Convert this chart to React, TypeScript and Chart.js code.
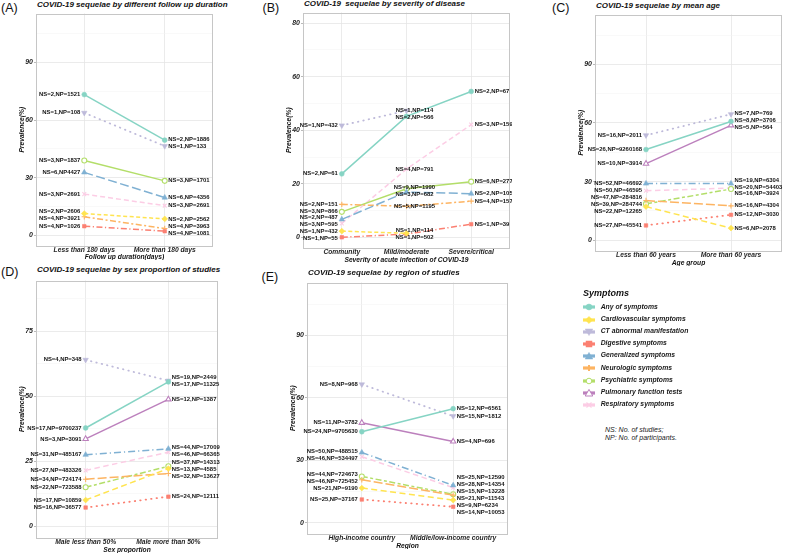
import React, { useEffect, useRef } from 'react';
import { Chart, registerables } from 'chart.js';
Chart.register(...registerables);

const FONT = '"Liberation Sans", Arial, Helvetica, sans-serif';

// ---------- shared symptom list & styles ----------
const SYMPTOMS = [
  'Any of symptoms',
  'Cardiovascular symptoms',
  'CT abnormal manifestation',
  'Digestive symptoms',
  'Generalized symptoms',
  'Neurologic symptoms',
  'Psychiatric symptoms',
  'Pulmonary function tests',
  'Respiratory symptoms',
];
const COLORS = ['#86D4C4', '#FFE450', '#BEBADA', '#FB8072', '#80B1D3', '#FDB462', '#B3DE69', '#BC80BD', '#FCCDE5'];
const POINT_STYLE = ['circle', 'rectRot', 'triangle', 'rect', 'triangle', 'cross', 'circle', 'triangle', 'crossRot'];
const POINT_ROT = [0, 0, 180, 0, 0, 0, 0, 0, 0];
const POINT_OPEN = [false, false, false, false, false, false, true, true, true];
const POINT_R = [2.4, 2.9, 3.1, 2.5, 3.1, 2.7, 2.5, 3.1, 2.7];
const DASH_AB = [[], [4, 2.5], [0.5, 5], [6, 2.5, 1.2, 2.5], [9, 3.5], [6, 2.5, 2, 2.5], [], [], [5, 3]];
const DASH_CDE = [[], [6, 3.5], [0.5, 5], [0.5, 5], [7, 3, 1.2, 3], [9, 3], [6, 2.5, 3, 2.5], [], [5.5, 3.5]];

// ---------- Panel A ----------
const A_CATS = ['Less than 180 days', 'More than 180 days'];
const A_VALUES: (number | null)[][] = [
  [73.3, 49.6], // Any
  [11.4, 8.6], // Cardiovascular
  [63.8, 46.5], // CT
  [4.8, 2.2], // Digestive
  [32.8, 19.7], // Generalized
  [9.7, 3.6], // Neurologic
  [39.0, 28.4], // Psychiatric
  [null, null], // Pulmonary
  [21.5, 15.5], // Respiratory
];
const A_LABELS: (string | null)[][] = [
  ['NS=2,NP=1521', 'NS=2,NP=1886'],
  ['NS=2,NP=2606', 'NS=2,NP=2562'],
  ['NS=1,NP=108', 'NS=1,NP=133'],
  ['NS=4,NP=1026', 'NS=4,NP=1081'],
  ['NS=6,NP4427', 'NS=6,NP=4356'],
  ['NS=4,NP=3921', 'NS=4,NP=3963'],
  ['NS=3,NP=1837', 'NS=3,NP=1701'],
  [null, null],
  ['NS=3,NP=2691', 'NS=3,NP=2691'],
];

// ---------- Panel B ----------
const B_CATS = ['Community', 'Mild/moderate', 'Severe/critical'];
const B_VALUES: (number | null)[][] = [
  [23.7, 45.2, 54.5],
  [2.3, 1.5, null],
  [41.8, 47.3, null],
  [0, 1.2, 4.9],
  [6.7, 16.9, 16.3],
  [12.3, 11.6, 13.5],
  [9.5, 18.1, 20.8],
  [null, null, null],
  [5.2, 25.5, 42.1],
];
const B_LABELS: (string | null)[][] = [
  ['NS=2,NP=61', 'NS=2,NP=566', 'NS=2,NP=67'],
  ['NS=1,NP=432', 'NS=1,NP=114', null],
  ['NS=1,NP=432', 'NS=1,NP=114', null],
  ['NS=1,NP=55', 'NS=1,NP=502', 'NS=1,NP=39'],
  ['NS=2,NP=487', 'NS=3,NP=682', 'NS=2,NP=105'],
  ['NS=2,NP=151', 'NS=5,NP=1195', 'NS=4,NP=157'],
  ['NS=3,NP=866', 'NS=9,NP=1990', 'NS=6,NP=277'],
  [null, null, null],
  ['NS=3,NP=595', 'NS=4,NP=791', 'NS=3,NP=159'],
];

// ---------- Panel C ----------
const C_CATS = ['Less than 60 years', 'More than 60 years'];
const C_VALUES: (number | null)[][] = [
  [46.4, 60.8],
  [17.2, 6.2],
  [53.7, 64.5],
  [7.6, 13.0],
  [29.0, 29.0],
  [20.3, 17.6],
  [18.6, 26.2],
  [39.2, 58.8],
  [25.3, 26.7],
];
const C_LABELS: (string | null)[][] = [
  ['NS=26,NP=9260168', 'NS=8,NP=3706'],
  ['NS=22,NP=12265', 'NS=6,NP=2078'],
  ['NS=16,NP=2011', 'NS=7,NP=769'],
  ['NS=27,NP=45541', 'NS=12,NP=3030'],
  ['NS=52,NP=46692', 'NS=19,NP=6304'],
  ['NS=47,NP=284816', 'NS=16,NP=4304'],
  ['NS=39,NP=284744', 'NS=16,NP=3924'],
  ['NS=10,NP=3914', 'NS=5,NP=564'],
  ['NS=50,NP=46595', 'NS=20,NP=54403'],
];

// ---------- Panel D ----------
const D_CATS = ['Male less than 50%', 'Male more than 50%'];
const D_VALUES: (number | null)[][] = [
  [37.8, 55.5],
  [10.1, 22.2],
  [64.0, 56.0],
  [7.2, 11.4],
  [27.5, 29.8],
  [18.1, 20.3],
  [15.0, 23.1],
  [33.6, 48.8],
  [21.5, 28.5],
];
const D_LABELS: (string | null)[][] = [
  ['NS=17,NP=9700237', 'NS=17,NP=11325'],
  ['NS=17,NP=10859', 'NS=13,NP=4585'],
  ['NS=4,NP=348', 'NS=19,NP=2449'],
  ['NS=16,NP=36577', 'NS=24,NP=12111'],
  ['NS=31,NP=485167', 'NS=44,NP=17009'],
  ['NS=34,NP=724174', 'NS=32,NP=13627'],
  ['NS=22,NP=723588', 'NS=37,NP=14313'],
  ['NS=3,NP=3091', 'NS=12,NP=1387'],
  ['NS=27,NP=483326', 'NS=46,NP=66365'],
];

// ---------- Panel E ----------
const E_CATS = ['High-income country', 'Middle/low-income country'];
const E_VALUES: (number | null)[][] = [
  [43.7, 54.8],
  [16.6, 10.8],
  [66.5, 51.2],
  [11.1, 7.6],
  [33.7, 17.9],
  [20.6, 13.2],
  [22.2, 13.6],
  [48.0, 39.0],
  [31.7, 16.8],
];
const E_LABELS: (string | null)[][] = [
  ['NS=24,NP=9705630', 'NS=12,NP=6561'],
  ['NS=21,NP=9190', 'NS=9,NP=6234'],
  ['NS=8,NP=968', 'NS=15,NP=1812'],
  ['NS=25,NP=37167', 'NS=14,NP=10053'],
  ['NS=50,NP=488515', 'NS=25,NP=12590'],
  ['NS=46,NP=725452', 'NS=21,NP=11543'],
  ['NS=44,NP=724673', 'NS=15,NP=13228'],
  ['NS=11,NP=3782', 'NS=4,NP=696'],
  ['NS=46,NP=534497', 'NS=28,NP=14354'],
];

// ---------- layout ----------
type Spec = {
  letter: string;
  title: string;
  xTitle: string;
  cats: string[];
  values: (number | null)[][];
  labels: (string | null)[][];
  dashes: number[][];
  yMin: number;
  yMax: number;
  major: number;
  minor: number;
  L: number; T: number; R: number; B: number;
  xh: number;
  letterX: number; letterY: number;
  titleY: number;
};

const PANELS: Spec[] = [
  { letter: '(A)', title: 'COVID-19 sequelae by different follow up duration', xTitle: 'Follow up duration(days)',
    cats: A_CATS, values: A_VALUES, labels: A_LABELS, dashes: DASH_AB,
    yMin: -5.5, yMax: 115.5, major: 30, minor: 15, L: 36, T: 11, R: 213, B: 246, xh: 14,
    letterX: 1, letterY: 8.3, titleY: 5 },
  { letter: '(B)', title: 'COVID-19  sequelae by severity of disease', xTitle: 'Severity of acute infection of COVID-19',
    cats: B_CATS, values: B_VALUES, labels: B_LABELS, dashes: DASH_AB,
    yMin: -4, yMax: 84, major: 20, minor: 10, L: 303, T: 10, R: 510, B: 248, xh: 15,
    letterX: 262.5, letterY: 8.3, titleY: 4.3 },
  { letter: '(C)', title: 'COVID-19 sequelae by mean age', xTitle: 'Age group',
    cats: C_CATS, values: C_VALUES, labels: C_LABELS, dashes: DASH_CDE,
    yMin: -5.5, yMax: 115.5, major: 30, minor: 15, L: 595, T: 12, R: 782, B: 251, xh: 15,
    letterX: 552, letterY: 8.7, titleY: 6.3 },
  { letter: '(D)', title: 'COVID-19 sequelae by sex proportion of studies', xTitle: 'Sex proportion',
    cats: D_CATS, values: D_VALUES, labels: D_LABELS, dashes: DASH_CDE,
    yMin: -4.5, yMax: 94.5, major: 25, minor: 12.5, L: 36, T: 278, R: 218, B: 538, xh: 15,
    letterX: 1, letterY: 272, titleY: 270.5 },
  { letter: '(E)', title: 'COVID-19 sequelae by region of studies', xTitle: 'Region',
    cats: E_CATS, values: E_VALUES, labels: E_LABELS, dashes: DASH_CDE,
    yMin: -5.5, yMax: 115.5, major: 30, minor: 15, L: 307, T: 280, R: 508, B: 534, xh: 15,
    letterX: 261.5, letterY: 277.5, titleY: 273.3 },
];

const YW = 17; // y axis box width
const PT = 2;
const PR = 2;

function repel(desired: number[], gap: number, lo: number, hi: number): number[] {
  const order = desired.map((_, i) => i).sort((a, b) => desired[a] - desired[b]);
  const fitTop = (idx: number[]) => {
    let s = 0;
    idx.forEach((id, k) => { s += desired[id] - k * gap; });
    const span = (idx.length - 1) * gap;
    return Math.max(lo, Math.min(hi - span, s / idx.length));
  };
  const cls: { idx: number[]; top: number }[] = [];
  for (const id of order) {
    let c = { idx: [id], top: fitTop([id]) };
    while (cls.length) {
      const p = cls[cls.length - 1];
      const pBottom = p.top + (p.idx.length - 1) * gap;
      if (c.top < pBottom + gap) {
        cls.pop();
        const idx = p.idx.concat(c.idx);
        c = { idx, top: fitTop(idx) };
      } else break;
    }
    cls.push(c);
  }
  const out: number[] = new Array(desired.length);
  cls.forEach((c) => c.idx.forEach((id, k) => { out[id] = c.top + k * gap; }));
  return out;
}

const framePlugin = {
  id: 'frame',
  beforeDatasetsDraw(chart: any) {
    const { ctx, chartArea: a } = chart;
    ctx.save();
    ctx.strokeStyle = '#C6C6C6';
    ctx.lineWidth = 1;
    ctx.strokeRect(Math.round(a.left) + 0.5, Math.round(a.top) + 0.5, Math.round(a.right - a.left) - 1, Math.round(a.bottom - a.top) - 1);
    ctx.restore();
  },
};

const labelPlugin = {
  id: 'nsnp',
  afterDatasetsDraw(chart: any) {
    const { ctx, chartArea: a } = chart;
    const nCats: number = chart.options.plugins.nsnp.nCats;
    const groups: { px: number; py: number; text: string }[][] = [];
    chart.data.datasets.forEach((ds: any, di: number) => {
      const meta = chart.getDatasetMeta(di);
      meta.data.forEach((pt: any, j: number) => {
        const raw = ds.data[j];
        const text = ds.nsnp[j];
        if (!text) return;
        (groups[raw.x] = groups[raw.x] || []).push({ px: pt.x, py: pt.y, text });
      });
    });
    ctx.save();
    ctx.font = `bold 5.9px ${FONT}`;
    ctx.fillStyle = '#141414';
    ctx.textBaseline = 'middle';
    groups.forEach((g, ci) => {
      if (!g) return;
      const ys = repel(g.map((d) => d.py), 6.9, a.top + 5, a.bottom - 5);
      g.forEach((d, k) => {
        if (ci === 0) {
          ctx.textAlign = 'right';
          ctx.fillText(d.text, d.px - 4, ys[k]);
        } else if (ci === nCats - 1) {
          ctx.textAlign = 'left';
          ctx.fillText(d.text, d.px + 3.5, ys[k]);
        } else {
          ctx.textAlign = 'center';
          ctx.fillText(d.text, d.px + 8, ys[k]);
        }
      });
    });
    ctx.restore();
  },
};

function Panel({ spec }: { spec: Spec }) {
  const ref = useRef<HTMLCanvasElement | null>(null);
  const w = spec.R - spec.L + YW + PR;
  const h = spec.B - spec.T + spec.xh + PT;
  useEffect(() => {
    const isMajor = (v: number) => Math.abs(v / spec.major - Math.round(v / spec.major)) < 1e-6;
    const datasets = spec.values.map((row, si) => {
      const pts: { x: number; y: number }[] = [];
      const lbl: (string | null)[] = [];
      row.forEach((v, i) => {
        if (v !== null) {
          pts.push({ x: i, y: v });
          lbl.push(spec.labels[si][i]);
        }
      });
      const dash = spec.dashes[si];
      const dotted = dash.length === 2 && dash[0] < 1;
      return {
        label: SYMPTOMS[si],
        data: pts,
        nsnp: lbl,
        showLine: true,
        borderColor: COLORS[si],
        backgroundColor: COLORS[si],
        borderWidth: dotted ? 1.8 : 1.5,
        borderDash: dash,
        borderCapStyle: dotted ? 'round' : 'butt',
        pointStyle: POINT_STYLE[si],
        pointRotation: POINT_ROT[si],
        pointRadius: POINT_R[si],
        pointBackgroundColor: POINT_OPEN[si] ? '#FFFFFF' : COLORS[si],
        pointBorderColor: COLORS[si],
        pointBorderWidth: POINT_OPEN[si] || POINT_STYLE[si].startsWith('cross') ? 1.1 : 0.6,
      };
    }).filter((d) => d.data.length > 0);

    const tickFont = { family: FONT, size: 6.7, weight: 'bold' as const, style: 'italic' as const, lineHeight: 1 };
    const yTickFont = { ...tickFont, size: 7 };
    const chart = new Chart(ref.current as HTMLCanvasElement, {
      type: 'scatter',
      data: { datasets: datasets as any },
      options: {
        animation: false,
        responsive: true,
        maintainAspectRatio: false,
        events: [],
        layout: { padding: { left: 0, top: PT, right: PR, bottom: 0 }, autoPadding: false },
        plugins: {
          legend: { display: false },
          title: { display: false },
          tooltip: { enabled: false },
          nsnp: { nCats: spec.cats.length },
        } as any,
        scales: {
          x: {
            type: 'linear',
            min: -0.6,
            max: spec.cats.length - 1 + 0.6,
            afterBuildTicks: (s: any) => { s.ticks = spec.cats.map((_, i) => ({ value: i })); },
            afterFit: (s: any) => { s.height = spec.xh; },
            ticks: {
              callback: (v: any) => spec.cats[Math.round(Number(v))] ?? '',
              font: tickFont,
              color: '#1F1F1F',
              padding: -1,
              maxRotation: 0,
              autoSkip: false,
            },
            grid: { color: '#E6E6E6', lineWidth: 0.8, drawTicks: true, tickLength: 2, tickColor: '#A8A8A8', tickWidth: 0.8 },
            border: { display: false },
            title: { display: true, text: spec.xTitle, font: tickFont, color: '#111', padding: 0 },
          },
          y: {
            type: 'linear',
            min: spec.yMin,
            max: spec.yMax,
            afterBuildTicks: (s: any) => {
              const t: { value: number }[] = [];
              for (let k = 0; k * spec.minor <= spec.yMax + 1e-9; k++) t.push({ value: k * spec.minor });
              s.ticks = t;
            },
            afterFit: (s: any) => { s.width = YW; },
            ticks: {
              callback: (v: any) => (isMajor(Number(v)) ? String(v) : ''),
              font: yTickFont,
              color: '#1F1F1F',
              padding: 1,
              autoSkip: false,
            },
            grid: {
              color: (c: any) => (c.tick && isMajor(c.tick.value) ? '#E6E6E6' : '#F3F3F3'),
              lineWidth: (c: any) => (c.tick && isMajor(c.tick.value) ? 0.8 : 0.5),
              drawTicks: true,
              tickLength: 2,
              tickColor: (c: any) => (c.tick && isMajor(c.tick.value) ? '#A8A8A8' : 'rgba(0,0,0,0)'),
              tickWidth: 0.8,
            },
            border: { display: false },
            title: { display: true, text: 'Prevalence(%)', font: tickFont, color: '#111', padding: 0 },
          },
        },
      } as any,
      plugins: [framePlugin, labelPlugin],
    });
    return () => chart.destroy();
  }, []);

  return (
    <>
      <div style={{ position: 'absolute', left: spec.L - YW, top: spec.T - PT, width: w, height: h }}>
        <canvas ref={ref} />
      </div>
      <div style={{ position: 'absolute', left: spec.letterX, top: spec.letterY - 6.5, font: `12.5px ${FONT}`, lineHeight: 1, color: '#111', whiteSpace: 'nowrap' }}>
        {spec.letter}
      </div>
      <div style={{ position: 'absolute', left: spec.L + 1, top: spec.titleY - 4.2, font: `italic bold 8px ${FONT}`, lineHeight: 1, color: '#111', whiteSpace: 'pre' }}>
        {spec.title}
      </div>
    </>
  );
}

function LegendIcon({ i }: { i: number }) {
  const c = COLORS[i];
  const cx = 6, cy = 5;
  let marker: React.ReactNode = null;
  const st = POINT_STYLE[i];
  const open = POINT_OPEN[i];
  const fill = open ? '#FFFFFF' : c;
  if (st === 'circle') marker = <circle cx={cx} cy={cy} r={open ? 2.8 : 3} fill={fill} stroke={c} strokeWidth={open ? 1 : 0.5} />;
  else if (st === 'rectRot') marker = <polygon points={`${cx},${cy - 3.6} ${cx + 3.6},${cy} ${cx},${cy + 3.6} ${cx - 3.6},${cy}`} fill={fill} stroke={c} strokeWidth={0.5} />;
  else if (st === 'rect') marker = <rect x={cx - 3} y={cy - 3} width={6} height={6} fill={fill} stroke={c} strokeWidth={0.5} />;
  else if (st === 'triangle') {
    const pts = POINT_ROT[i] === 180
      ? `${cx - 3.8},${cy - 3} ${cx + 3.8},${cy - 3} ${cx},${cy + 3.6}`
      : `${cx - 3.8},${cy + 3} ${cx + 3.8},${cy + 3} ${cx},${cy - 3.6}`;
    marker = <polygon points={pts} fill={fill} stroke={c} strokeWidth={open ? 1 : 0.5} />;
  } else if (st === 'cross') marker = <path d={`M${cx - 3} ${cy}H${cx + 3}M${cx} ${cy - 3}V${cy + 3}`} stroke={c} strokeWidth={2} />;
  else if (st === 'crossRot') marker = <path d={`M${cx - 2.5} ${cy - 2.5}L${cx + 2.5} ${cy + 2.5}M${cx + 2.5} ${cy - 2.5}L${cx - 2.5} ${cy + 2.5}`} stroke={c} strokeWidth={1.1} />;
  return (
    <svg width={12} height={10} style={{ position: 'absolute', left: 0, top: 0, overflow: 'visible' }}>
      <line x1={0} y1={cy} x2={12} y2={cy} stroke={c} strokeWidth={3.2} />
      {marker}
    </svg>
  );
}

function Legend() {
  return (
    <>
      <div style={{ position: 'absolute', left: 583, top: 293.3 - 4.8, font: `italic bold 9px ${FONT}`, lineHeight: 1, color: '#111' }}>Symptoms</div>
      {SYMPTOMS.map((s, i) => (
        <div key={s} style={{ position: 'absolute', left: 583, top: 307.3 + 12.2 * i - 5, width: 200, height: 10 }}>
          <LegendIcon i={i} />
          <div style={{ position: 'absolute', left: 17.7, top: 5 - 3.6, font: `italic bold 6.8px ${FONT}`, lineHeight: 1, color: '#1A1A1A', whiteSpace: 'nowrap' }}>{s}</div>
        </div>
      ))}
      <div style={{ position: 'absolute', left: 605, top: 430 - 3.7, font: `italic 7px ${FONT}`, lineHeight: 1, color: '#222', whiteSpace: 'nowrap' }}>NS: No. of studies;</div>
      <div style={{ position: 'absolute', left: 605, top: 437.7 - 3.7, font: `italic 7px ${FONT}`, lineHeight: 1, color: '#222', whiteSpace: 'nowrap' }}>NP: No. of participants.</div>
    </>
  );
}

export default function App() {
  return (
    <div style={{ position: 'absolute', left: 0, top: 0, width: 788, height: 556, background: '#FFFFFF', overflow: 'hidden' }}>
      {PANELS.map((p) => (
        <Panel key={p.letter} spec={p} />
      ))}
      <Legend />
    </div>
  );
}
